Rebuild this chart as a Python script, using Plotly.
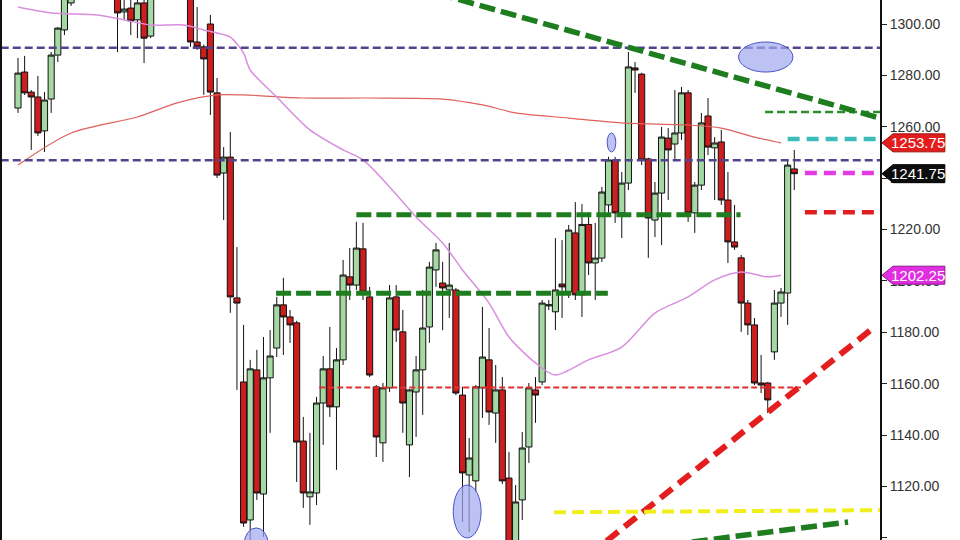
import plotly.graph_objects as go

# ---------------- data ----------------
opens = [1267.3, 1281.3, 1273.5, 1271.6, 1258.4, 1270.8, 1287.9, 1297.7, 1308.2, 1314.0,
         1319.0, 1322.0, 1316.0, 1319.0, 1317.0, 1312.0, 1304.7, 1306.2, 1301.6, 1308.2,
         1295.3, 1311.0, 1318.0, 1323.0, 1320.0, 1322.0, 1313.0, 1293.0, 1291.1, 1300.0,
         1273.2, 1242.0, 1248.2, 1193.4, 1160.7, 1107.0, 1165.4, 1117.1, 1162.3, 1173.9,
         1190.7, 1186.0, 1183.7, 1137.7, 1116.0, 1117.5, 1152.5, 1165.8, 1151.0, 1169.3,
         1201.6, 1198.4, 1212.5, 1193.8, 1158.8, 1137.0, 1158.4, 1193.8, 1180.2, 1136.2,
         1156.8, 1165.4, 1182.1, 1204.3, 1199.2, 1196.5, 1196.5, 1155.6, 1124.5, 1122.2,
         1158.4, 1169.3, 1148.6, 1157.6, 1123.3, 1095.0, 1114.8, 1135.4, 1157.6, 1160.7,
         1190.3, 1188.0, 1198.8, 1195.7, 1218.7, 1194.6, 1222.0, 1207.0, 1208.9, 1229.6,
         1247.1, 1226.5, 1238.1, 1282.9, 1280.5, 1247.5, 1223.7, 1234.2, 1255.6, 1253.3,
         1257.6, 1273.2, 1226.5, 1237.3, 1264.2, 1251.8, 1254.1, 1231.5, 1215.2, 1209.0,
         1191.4, 1182.9, 1160.3, 1160.3, 1172.4, 1191.4, 1195.3, 1243.6]
highs = [1286.8, 1287.6, 1274.3, 1279.8, 1273.5, 1289.1, 1298.8, 1313.0, 1316.0, 1322.0,
         1325.0, 1326.0, 1321.0, 1324.0, 1320.0, 1314.0, 1311.0, 1310.0, 1311.0, 1312.0,
         1314.0, 1320.0, 1326.0, 1328.0, 1325.0, 1324.0, 1316.0, 1306.6, 1292.0, 1303.5,
         1279.0, 1252.1, 1258.0, 1213.2, 1182.9, 1169.3, 1173.2, 1178.2, 1180.9, 1193.8,
         1201.2, 1188.7, 1184.5, 1147.1, 1140.9, 1154.9, 1170.8, 1182.1, 1173.9, 1208.2,
         1212.8, 1223.0, 1222.6, 1197.7, 1159.5, 1160.3, 1198.4, 1198.4, 1188.7, 1158.0,
         1170.8, 1196.5, 1207.4, 1214.8, 1207.4, 1214.8, 1197.3, 1158.8, 1138.9, 1159.5,
         1189.9, 1181.7, 1167.3, 1162.6, 1133.5, 1120.6, 1141.2, 1160.3, 1162.6, 1192.6,
         1192.6, 1216.7, 1215.9, 1221.8, 1230.7, 1229.9, 1226.8, 1222.6, 1236.6, 1248.3,
         1248.3, 1242.4, 1289.1, 1285.2, 1281.0, 1248.0, 1238.5, 1259.9, 1259.5, 1274.3,
         1275.5, 1274.3, 1238.5, 1265.4, 1271.2, 1256.0, 1258.8, 1242.4, 1229.6, 1210.1,
         1192.6, 1185.6, 1171.2, 1160.7, 1196.5, 1197.3, 1247.1, 1251.0]
lows = [1265.4, 1272.4, 1251.0, 1256.4, 1250.2, 1265.4, 1285.2, 1295.7, 1307.0, 1311.0,
        1315.0, 1314.0, 1312.0, 1314.0, 1309.8, 1289.1, 1301.6, 1295.7, 1294.5, 1284.8,
        1294.5, 1309.8, 1314.0, 1317.0, 1315.0, 1311.0, 1291.1, 1289.9, 1272.4, 1264.6,
        1240.1, 1223.7, 1187.6, 1157.6, 1104.3, 1097.0, 1114.8, 1100.4, 1140.9, 1170.4,
        1171.2, 1175.9, 1121.8, 1111.7, 1105.1, 1112.8, 1136.2, 1147.1, 1126.5, 1167.3,
        1192.6, 1196.5, 1192.6, 1162.6, 1131.5, 1129.6, 1156.8, 1176.3, 1140.9, 1123.7,
        1139.3, 1147.9, 1175.9, 1197.7, 1180.9, 1185.6, 1155.6, 1106.2, 1102.3, 1117.9,
        1146.7, 1144.0, 1137.0, 1121.0, 1092.0, 1090.0, 1107.0, 1129.2, 1144.8, 1159.5,
        1188.7, 1180.9, 1185.6, 1193.4, 1192.6, 1186.0, 1202.3, 1192.6, 1207.4, 1225.7,
        1222.6, 1216.7, 1235.4, 1273.2, 1245.1, 1209.0, 1217.1, 1214.0, 1231.5, 1247.1,
        1254.9, 1223.0, 1218.7, 1235.4, 1249.0, 1231.5, 1229.6, 1207.0, 1212.1, 1180.2,
        1179.0, 1159.5, 1156.4, 1148.6, 1169.3, 1186.0, 1182.9, 1235.4]
closes = [1280.9, 1273.2, 1271.6, 1257.6, 1270.4, 1287.9, 1298.4, 1311.0, 1314.0, 1319.0,
          1322.0, 1316.0, 1319.0, 1317.0, 1312.0, 1304.3, 1305.8, 1301.2, 1308.2, 1294.5,
          1311.0, 1318.0, 1323.0, 1320.0, 1322.0, 1313.0, 1293.0, 1291.1, 1286.4, 1273.5,
          1241.2, 1248.2, 1193.8, 1191.4, 1105.8, 1165.8, 1117.5, 1162.3, 1170.8, 1190.7,
          1186.0, 1182.9, 1137.3, 1117.5, 1117.9, 1152.5, 1165.8, 1151.0, 1169.3, 1202.3,
          1198.4, 1212.8, 1195.7, 1163.4, 1139.3, 1158.4, 1193.4, 1180.9, 1152.5, 1157.6,
          1165.4, 1181.7, 1205.4, 1212.1, 1197.3, 1198.4, 1156.4, 1125.3, 1131.1, 1158.8,
          1170.4, 1149.0, 1157.6, 1122.2, 1097.0, 1114.0, 1135.0, 1158.4, 1155.6, 1191.4,
          1190.7, 1196.5, 1197.7, 1219.8, 1194.6, 1222.0, 1207.0, 1208.9, 1234.6, 1247.1,
          1226.5, 1238.1, 1283.3, 1282.1, 1247.1, 1224.5, 1234.2, 1256.0, 1251.0, 1257.6,
          1273.2, 1226.5, 1237.3, 1261.5, 1252.1, 1253.7, 1231.5, 1215.2, 1213.2, 1191.4,
          1182.9, 1160.3, 1159.5, 1153.7, 1191.4, 1195.7, 1245.1, 1241.75]
bars = list(range(len(opens)))

# moving averages (read at sample bars)
ma_fast_x = [0, 5, 12, 16, 20, 25, 28, 30, 32, 34, 35, 39, 44, 49, 52, 56, 60, 64, 67,
             71, 74, 78, 81, 86, 91, 96, 101, 105, 109, 113, 115]
ma_fast_y = [1306.6, 1304.3, 1303.5, 1301.6, 1299.6, 1299.6, 1297.7, 1296.5, 1294.9, 1288.7,
             1282.1, 1271.6, 1258.8, 1251.0, 1247.1, 1236.6, 1224.9, 1214.8, 1204.3,
             1191.4, 1178.2, 1168.1, 1163.4, 1169.3, 1174.3, 1187.5, 1193.8, 1200.4, 1203.5,
             1201.6, 1202.25]
ma_slow_x = [0, 8, 18, 24, 30, 34, 43, 53, 64, 70, 75, 83, 91, 101, 106, 111, 115]
ma_slow_y = [1245.1, 1257.6, 1263.8, 1269.3, 1272.4, 1272.4, 1271.2, 1271.2, 1270.8, 1268.5,
             1265.4, 1263.4, 1261.5, 1260.7, 1259.5, 1256.0, 1253.75]

# horizontal levels
purple_levels = [1290.75, 1247.0]
green_box_levels = [1225.75, 1195.25]
green_box_start = [51, 38.9]
green_box_end = [108.9, 88.9]
red_thin_level = 1158.5
red_thin_span = [45.4, 118.0]
right_levels = [1265.75, 1255.25, 1242.0, 1226.75]
right_starts = [112.6, 116.0, 118.6, 118.6]
right_colors = ["#2e8b2e", "#3dbcbc", "#e43ce4", "#e02020"]
right_widths = [2.5, 4.5, 4.5, 4.5]

# trend lines
green_res_x = [60, 131]
green_res_y = [1314.2, 1262.6]
red_trend_x = [86, 128.8]
red_trend_y = [1093.2, 1181.5]
green_sup_x = [95, 125.1]
green_sup_y = [1096.3, 1106.2]
yellow_x = [80.8, 130]
yellow_y = [1110.0, 1110.8]

# highlighted areas (bar range, price range)
ellipses = [
    (108.6, 116.8, 1281.3, 1293.0),
    (88.8, 90.1, 1250.2, 1257.6),
    (65.6, 69.8, 1100.0, 1120.6),
    (34.1, 37.7, 1091.4, 1103.9),
]

# price flags on the axis
flag_values = [1253.75, 1241.75, 1202.25]
flag_colors = ["#e31c1c", "#0d0d0d", "#e02ee0"]
flag_edges = ["#9a1010", "#000000", "#8a1a8a"]

tick_vals = [1100, 1120, 1140, 1160, 1180, 1200, 1220, 1240, 1260, 1280, 1300]

Y_RANGE = [1099.2, 1309.34]
X_RANGE = [-2.41, 129.92]

# ---------------- figure ----------------
fig = go.Figure()

fig.add_trace(go.Scatter(x=ma_slow_x, y=ma_slow_y, mode="lines",
                         line=dict(color="#e0605a", width=1.2, shape="spline", smoothing=0.8),
                         hoverinfo="skip"))
fig.add_trace(go.Scatter(x=ma_fast_x, y=ma_fast_y, mode="lines",
                         line=dict(color="#d98ee0", width=1.5, shape="spline", smoothing=0.8),
                         hoverinfo="skip"))

fig.add_trace(go.Candlestick(
    x=bars, open=opens, high=highs, low=lows, close=closes,
    increasing=dict(fillcolor="#a4d9a4", line=dict(color="#111111", width=1)),
    decreasing=dict(fillcolor="#cc1e1e", line=dict(color="#111111", width=1)),
    whiskerwidth=0, hoverinfo="skip"))

def seg(x, y, color, width, dash):
    fig.add_trace(go.Scatter(x=x, y=y, mode="lines",
                             line=dict(color=color, width=width, dash=dash),
                             hoverinfo="skip"))

for lv in purple_levels:
    seg([X_RANGE[0] - 2, X_RANGE[1] + 2], [lv, lv], "#54448e", 2.5, "8px,4px")
for lv, s, e in zip(green_box_levels, green_box_start, green_box_end):
    seg([s, e], [lv, lv], "#1e7d1e", 5, "15px,5px")
seg(red_thin_span, [red_thin_level, red_thin_level], "#e03030", 2, "6px,3px")
for lv, s, c, w in zip(right_levels, right_starts, right_colors, right_widths):
    seg([s, X_RANGE[1] + 1], [lv, lv], c, w, "12px,7px" if w > 3 else "8px,4px")
seg(green_res_x, green_res_y, "#1e7d1e", 5.5, "16px,6px")
seg(red_trend_x, red_trend_y, "#e41e1e", 6, "15px,8px")
seg(green_sup_x, green_sup_y, "#1e7d1e", 5.5, "16px,6px")
seg(yellow_x, yellow_y, "#f2ee1a", 4, "12px,6px")

shapes = []
for x0, x1, y0, y1 in ellipses:
    shapes.append(dict(type="circle", xref="x", yref="y", x0=x0, x1=x1, y0=y0, y1=y1,
                       fillcolor="rgba(160,168,238,0.7)", line=dict(color="#4a55c8", width=1),
                       layer="above"))

annotations = []
span = Y_RANGE[1] - Y_RANGE[0]
half = 9 / 540  # flag half-height in paper units
for v, c, ec in zip(flag_values, flag_colors, flag_edges):
    yp = (v - Y_RANGE[0]) / span
    xa, xb, xc = 882 / 880, 893 / 880, 945 / 880
    path = (f"M {xa} {yp} L {xb} {yp + half} L {xc} {yp + half} "
            f"L {xc} {yp - half} L {xb} {yp - half} Z")
    shapes.append(dict(type="path", xref="paper", yref="paper", path=path,
                       fillcolor=c, line=dict(color=ec, width=1), layer="above"))
    annotations.append(dict(xref="paper", yref="paper", x=(xb + xc) / 2 - 0.001, y=yp,
                            text=f"{v:.2f}", showarrow=False,
                            font=dict(family="Arial, Liberation Sans", size=15, color="white"),
                            xanchor="center", yanchor="middle"))

fig.update_layout(
    width=960, height=540, autosize=False,
    margin=dict(l=0, r=80, t=0, b=0),
    paper_bgcolor="white", plot_bgcolor="white",
    showlegend=False, hovermode=False,
    boxgap=0.04, boxgroupgap=0.04,
    shapes=shapes, annotations=annotations,
    xaxis=dict(range=X_RANGE, visible=False, rangeslider=dict(visible=False),
               showgrid=False, zeroline=False),
    yaxis=dict(range=Y_RANGE, side="right", tickvals=tick_vals, tickformat=".2f",
               ticks="outside", ticklen=5, tickcolor="#222", showgrid=False,
               zeroline=False, showline=True, linecolor="#111", linewidth=2,
               mirror=True,
               tickfont=dict(family="Arial, Liberation Sans", size=14, color="#333")),
)

fig.write_html("out.html", config={"displayModeBar": False, "staticPlot": True},
               post_script="document.body.style.margin='0';document.body.style.overflow='hidden';")
